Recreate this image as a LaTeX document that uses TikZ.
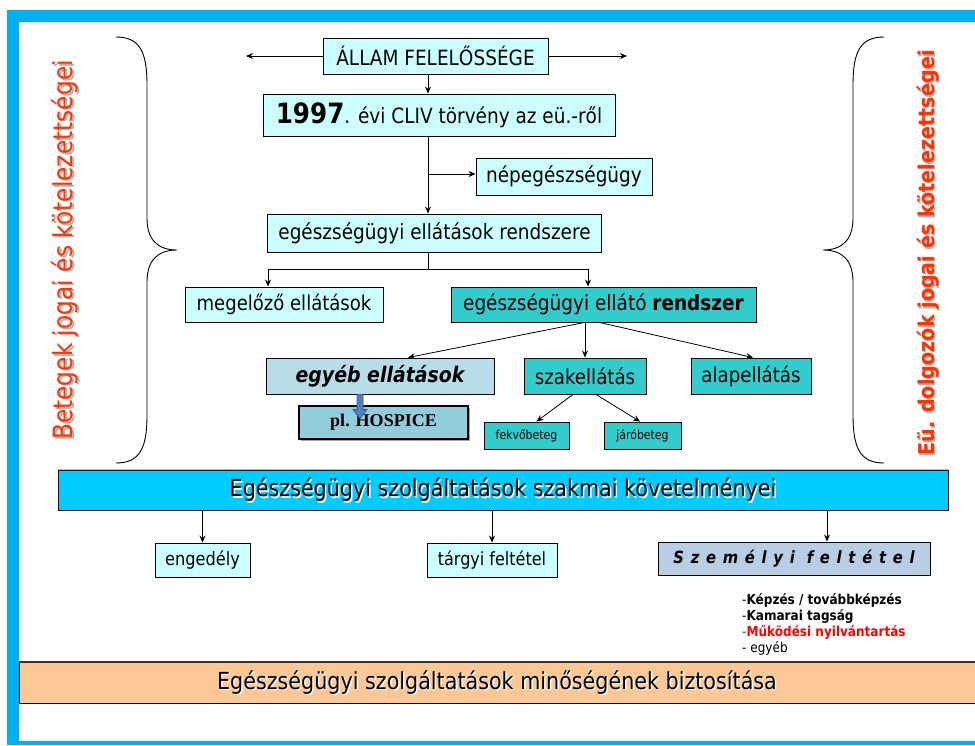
\documentclass[tikz,border=0pt]{standalone}
\usepackage{fontspec}
\setmainfont{DejaVu Sans}[FakeStretch=0.88]
\newfontfamily\serifbold{Liberation Serif}
\usetikzlibrary{arrows.meta}
\definecolor{framebl}{HTML}{00B0F0}
\definecolor{lcyan}{HTML}{CCFFFF}
\definecolor{teal2}{HTML}{33CCCC}
\definecolor{egyebc}{HTML}{B7DEE8}
\definecolor{hospc}{HTML}{92CDDC}
\definecolor{bigbl}{HTML}{00CCFF}
\definecolor{szemc}{HTML}{B9CDE5}
\definecolor{orangec}{HTML}{FCC996}
\definecolor{redtxt}{HTML}{FF3300}
\definecolor{barrow}{HTML}{4F81BD}
\definecolor{barrowd}{HTML}{385D8A}
\newcommand\fsz[1]{\fontsize{#1}{#1}\selectfont}
\tikzset{
  box/.style={draw=black, line width=0.9pt, rectangle, inner sep=0pt, align=center},
  arr/.style={draw=black, line width=0.8pt, -{Stealth[length=7pt,width=6pt]}},
  ln/.style={draw=black, line width=0.8pt},
  brace/.style={draw=black, line width=0.9pt},
}
\begin{document}
\begin{tikzpicture}[x=1pt,y=-1pt]
\useasboundingbox (0,0) rectangle (975,745);
% frame
\fill[framebl] (7,10) rectangle (975,22);
\fill[framebl] (7,10) rectangle (19,745);
\fill[framebl] (7,741) rectangle (975,745);

% braces
\draw[brace] (116,37) .. controls (140,37) and (147,52) .. (147,85) -- (147,218)
  .. controls (147,240) and (158,250) .. (177,250)
  .. controls (158,250) and (147,260) .. (147,282) -- (147,415)
  .. controls (147,448) and (140,463) .. (116,463);
\draw[brace] (884,37) .. controls (860,37) and (853,52) .. (853,85) -- (853,218)
  .. controls (853,240) and (842,250) .. (823,250)
  .. controls (842,250) and (853,260) .. (853,282) -- (853,415)
  .. controls (853,448) and (860,463) .. (884,463);

% vertical texts
\node[rotate=90, text=black!30] at (66.5,251.5) {\fsz{26.5}Betegek jogai és kötelezettségei};
\node[rotate=90, text=redtxt] (lefttxt) at (65,250) {\fsz{26.5}Betegek jogai és kötelezettségei};
\node[rotate=90, text=black!30] at (929.5,254.5) {\fsz{21.8}\bfseries Eü. dolgozók jogai és kötelezettségei};
\node[rotate=90, text=redtxt] (righttxt) at (928,253) {\fsz{21.8}\bfseries Eü. dolgozók jogai és kötelezettségei};

% trunk coordinate
\coordinate (tx) at (428,0);

% nodes
\node[box, fill=lcyan, minimum width=225pt, minimum height=36pt] (allam) at (435.5,56) {\fsz{21}ÁLLAM FELELŐSSÉGE};
\node[box, fill=lcyan, minimum width=352pt, minimum height=42pt] (law) at (439,115) {\fsz{21}{\fsz{28}\bfseries 1997}. évi CLIV törvény az eü.-ről};
\node[box, fill=lcyan, minimum width=176pt, minimum height=37pt] (nep) at (564,176.5) {\fsz{21}népegészségügy};
\node[box, fill=lcyan, minimum width=334pt, minimum height=38pt] (rend) at (434.5,233) {\fsz{21}egészségügyi ellátások rendszere};
\node[box, fill=lcyan, minimum width=198pt, minimum height=35pt] (meg) at (284,304.5) {\fsz{20.5}megelőző ellátások};
\node[box, fill=teal2, minimum width=305pt, minimum height=35pt] (ello) at (603.5,304.5) {\fsz{21}egészségügyi ellátó \textbf{rendszer}};
\node[box, fill=egyebc, minimum width=228pt, minimum height=36pt] (egyeb) at (380,376) {\fsz{21.5}\bfseries\itshape egyéb ellátások};
\node[box, fill=teal2, minimum width=122pt, minimum height=36pt] (szak) at (585,376) {\fsz{20.7}szakellátás};
\node[box, fill=teal2, minimum width=120pt, minimum height=36pt] (alap) at (751,376) {\fsz{20.7}alapellátás};
\fill[black!35] (301,408) rectangle (470,441);
\node[box, fill=hospc, line width=1.6pt, minimum width=169pt, minimum height=33pt] (hosp) at (383.5,422.5) {\serifbold\fsz{18}\bfseries pl. HOSPICE};
\node[box, fill=teal2, minimum width=85pt, minimum height=27pt] (fekvo) at (526.5,435.5) {\fsz{12.4}fekvőbeteg};
\node[box, fill=teal2, minimum width=77pt, minimum height=27pt] (jaro) at (642.5,435.5) {\fsz{12.4}járóbeteg};

% block arrow egyeb -> hosp
\begin{scope}[shift={([xshift=-20pt]egyeb.south)}]
\filldraw[fill=barrow, draw=barrowd, line width=0.8pt] (-3,0) -- (3,0) -- (3,15) -- (7,15) -- (0,24) -- (-7,15) -- (-3,15) -- cycle;
\end{scope}

% bottom part
\fill[black!25] (58,468.5) rectangle (948,470);
\node[box, fill=bigbl, minimum width=890pt, minimum height=40pt] (big) at (503,490) {};
\node[text=white] at (504.5,491.5) {\fsz{23.5}Egészségügyi szolgáltatások szakmai követelményei};
\node[text=black] (bigtxt) at (503,490) {\fsz{23.5}Egészségügyi szolgáltatások szakmai követelményei};
\node[box, fill=lcyan, minimum width=95pt, minimum height=34pt] (eng) at (202.5,560) {\fsz{18.4}engedély};
\node[box, fill=lcyan, minimum width=130pt, minimum height=34pt] (targy) at (492,560) {\fsz{18.2}tárgyi feltétel};
\node[box, fill=szemc, minimum width=272pt, minimum height=33pt] (szem) at (794,558.5) {\fsz{16.8}\bfseries\itshape\addfontfeature{LetterSpace=40}Személyi feltétel};
\node[anchor=north west, align=left, inner sep=0pt, font={\fontsize{13.7}{16}\selectfont}] (list) at (742,593) {-\textbf{Képzés / továbbképzés}\\
-\textbf{Kamarai tagság}\\
\textcolor{red}{-\textbf{Működési nyilvántartás}}\\
- egyéb};
\node[draw=black, line width=0.6pt, fill=orangec, minimum width=956pt, minimum height=41pt, inner sep=0pt] (qual) at (497,682.5) {};
\draw[black!80, line width=2pt] (qual.north west) -- (qual.north east);
\node[text=white] at (498.5,684) {\fsz{23.5}Egészségügyi szolgáltatások minőségének biztosítása};
\node[text=black] (qualtxt) at (497,682.5) {\fsz{23.5}Egészségügyi szolgáltatások minőségének biztosítása};

% connectors
\coordinate (lend) at (246,56);
\coordinate (rend2) at (627,56);
\draw[arr] (allam.west) -- (lend);
\draw[arr] (allam.east) -- (rend2);
\draw[arr] (allam.south -| tx) -- (law.north -| tx);
\draw[arr] (law.south -| tx) -- (rend.north -| tx);
\draw[arr] ([yshift=2.5pt]tx |- nep.west) -- ([yshift=2.5pt]nep.west);
\coordinate (split) at (428,269);
\draw[ln] (rend.south -| tx) -- (split);
\draw[ln] (268,269) -- (588,269);
\draw[arr] (268,269) -- (meg.north -| 268,0);
\draw[arr] (588,269) -- (ello.north -| 588,0);
\draw[arr] ([xshift=-19pt]ello.south) -- ([xshift=28pt]egyeb.north);
\draw[arr] (szak.north |- ello.south) -- (szak.north);
\draw[arr] ([xshift=-4pt]ello.south) -- ([xshift=2pt]alap.north);
\draw[arr] ([xshift=-12pt]szak.south) -- ([xshift=10pt]fekvo.north);
\draw[arr] ([xshift=11pt]szak.south) -- ([xshift=-2.5pt]jaro.north);
\draw[arr] (big.south -| eng.north) -- (eng.north);
\draw[arr] (big.south -| targy.north) -- (targy.north);
\draw[arr] ([xshift=33pt]big.south -| szem.north) -- ([xshift=33pt]szem.north);
\end{tikzpicture}
\end{document}
